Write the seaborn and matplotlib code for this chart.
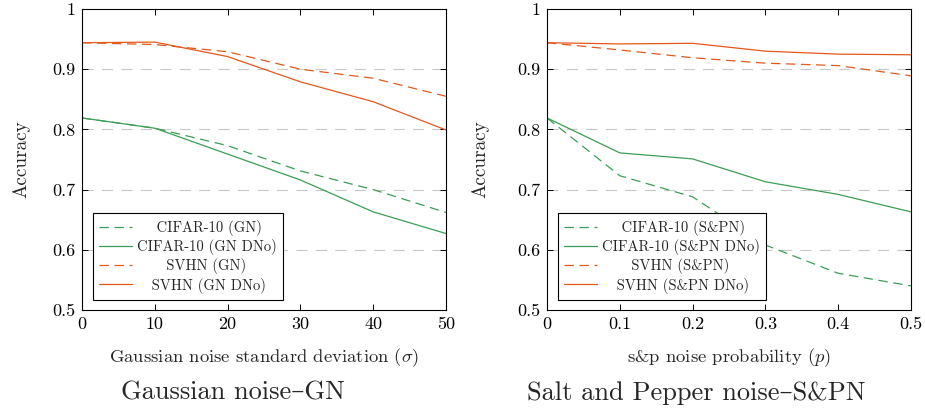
import numpy as np
import pandas as pd
import matplotlib
matplotlib.use("Agg")
import matplotlib.pyplot as plt
import seaborn as sns

# ---- data ----
gn_x = [0, 10, 20, 30, 40, 50]
cifar_gn = [0.819, 0.802, 0.773, 0.731, 0.700, 0.662]
cifar_gn_dno = [0.819, 0.802, 0.759, 0.716, 0.663, 0.627]
svhn_gn = [0.944, 0.941, 0.929, 0.900, 0.885, 0.855]
svhn_gn_dno = [0.944, 0.945, 0.921, 0.879, 0.846, 0.799]

sp_x = [0, 0.1, 0.2, 0.3, 0.4, 0.5]
cifar_sp = [0.819, 0.723, 0.688, 0.608, 0.561, 0.540]
cifar_sp_dno = [0.819, 0.761, 0.751, 0.713, 0.692, 0.663]
svhn_sp = [0.944, 0.932, 0.919, 0.910, 0.906, 0.889]
svhn_sp_dno = [0.944, 0.942, 0.943, 0.930, 0.925, 0.924]

gn_labels = ["CIFAR-10 (GN)", "CIFAR-10 (GN DNo)", "SVHN (GN)", "SVHN (GN DNo)"]
sp_labels = ["CIFAR-10 (S&PN)", "CIFAR-10 (S&PN DNo)", "SVHN (S&PN)", "SVHN (S&PN DNo)"]

sns.set_theme(style="white")
plt.rcParams['font.family'] = ['cmr10', 'DejaVu Serif']
plt.rcParams['mathtext.fontset'] = 'cm'
plt.rcParams['axes.formatter.use_mathtext'] = True
plt.rcParams['axes.unicode_minus'] = False

GREEN = "#3a9f55"
ORANGE = "#e4581c"
colors = [GREEN, GREEN, ORANGE, ORANGE]
DASH = (0, (7.5, 4.5))
styles = [DASH, '-', DASH, '-']

fig = plt.figure(figsize=(9.25, 4.12), dpi=100)
W, H = 925, 412
ax1 = fig.add_axes([82 / W, 1 - 310 / H, 364 / W, 301 / H])
ax2 = fig.add_axes([547 / W, 1 - 310 / H, 364 / W, 301 / H])

legends = []

def draw(ax, x, series, labels, xticks, xticklabels, xlabel, title, title_x, ylab_x):
    for y, lab, c, ls in zip(series, labels, colors, styles):
        df = pd.DataFrame({"x": x, "y": y})
        sns.lineplot(data=df, x="x", y="y", ax=ax, color=c, linewidth=0.9,
                     label=lab, linestyle=ls)
    ax.set_xlim(xticks[0], xticks[-1])
    ax.set_ylim(0.5, 1.0)
    ax.set_xticks(xticks)
    ax.set_xticklabels(xticklabels)
    yt = [0.5, 0.6, 0.7, 0.8, 0.9, 1.0]
    ax.set_yticks(yt)
    ax.set_yticklabels(["0.5", "0.6", "0.7", "0.8", "0.9", "1"])
    for g in [0.6, 0.7, 0.8, 0.9]:
        ax.axhline(g, color="#c8c8c8", linestyle=(0, (10, 7.5)), linewidth=0.8, zorder=0)
    ax.tick_params(direction="in", length=4, width=0.7, top=True, right=True,
                   bottom=True, left=True, labelsize=13, colors="black", pad=5)
    for s in ax.spines.values():
        s.set_color("black")
        s.set_linewidth(0.8)
    ax.set_xlabel(xlabel, fontsize=13.4, labelpad=10)
    ax.set_ylabel("Accuracy", fontsize=13.8)
    ax.yaxis.set_label_coords(ylab_x, 0.5)
    leg = ax.legend(loc="lower left", bbox_to_anchor=(0.03, 0.033), borderaxespad=0,
                    fontsize=10.5, frameon=True, fancybox=False, edgecolor="black",
                    framealpha=1, handlelength=2.2, handletextpad=0.35,
                    labelspacing=0.22, borderpad=0.45)
    leg.get_frame().set_linewidth(0.8)
    legends.append(leg)
    fig.text(title_x / W, 1 - 393 / H, title, ha="center", va="center", fontsize=19)

draw(ax1, gn_x, [cifar_gn, cifar_gn_dno, svhn_gn, svhn_gn_dno], gn_labels,
     [0, 10, 20, 30, 40, 50], ["0", "10", "20", "30", "40", "50"],
     r"Gaussian noise standard deviation ($\sigma$)", "Gaussian noise–GN", 233, -0.143)
draw(ax2, sp_x, [cifar_sp, cifar_sp_dno, svhn_sp, svhn_sp_dno], sp_labels,
     [0, 0.1, 0.2, 0.3, 0.4, 0.5], ["0", "0.1", "0.2", "0.3", "0.4", "0.5"],
     r"s&p noise probability ($p$)", "Salt and Pepper noise–S&PN", 696, -0.159)

# centre legend entry texts (pgfplots style) by left padding with spaces
fig.canvas.draw()
renderer = fig.canvas.get_renderer()
for leg in legends:
    texts = leg.get_texts()
    widths = [t.get_window_extent(renderer).width for t in texts]
    t0 = texts[0]
    orig = t0.get_text()
    t0.set_text("a a")
    w2 = t0.get_window_extent(renderer).width
    t0.set_text("aa")
    w1 = t0.get_window_extent(renderer).width
    t0.set_text(orig)
    sp = max(w2 - w1, 1)
    wmax = max(widths)
    for t, w in zip(texts, widths):
        n = int(round((wmax - w) / 2 / sp))
        t.set_text(" " * n + t.get_text())

fig.savefig("out.png", dpi=100)
